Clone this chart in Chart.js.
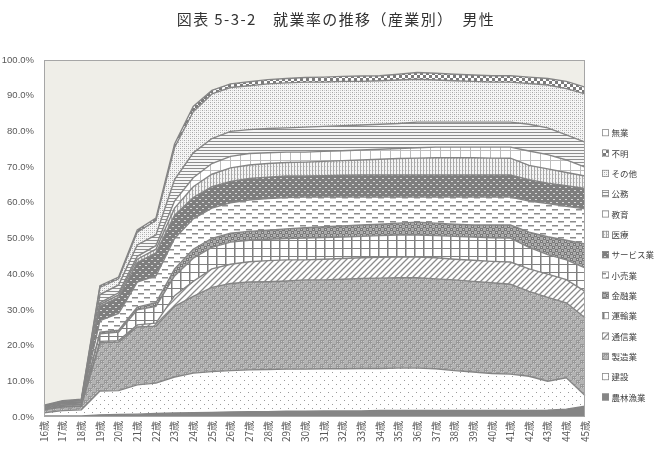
<!DOCTYPE html>
<html><head><meta charset="utf-8">
<script src="https://cdn.jsdelivr.net/npm/chart.js@4.4.1/dist/chart.umd.min.js"></script>
<style>html,body{margin:0;padding:0;background:#fff;}canvas{display:block;}</style>
</head><body>
<canvas id="c" width="672" height="454"></canvas>
<script>
const ages = ['16歳','17歳','18歳','19歳','20歳','21歳','22歳','23歳','24歳','25歳','26歳','27歳','28歳','29歳','30歳','31歳','32歳','33歳','34歳','35歳','36歳','37歳','38歳','39歳','40歳','41歳','42歳','43歳','44歳','45歳'];
const seriesNames = ['農林漁業','建設','製造業','通信業','運輸業','金融業','小売業','サービス業','医療','教育','公務','その他','不明','無業'];
const agri = [0.3,0.3,0.3,0.6,0.7,0.8,1.0,1.1,1.2,1.3,1.4,1.5,1.5,1.6,1.6,1.7,1.7,1.7,1.8,1.8,1.8,1.8,1.8,1.8,1.8,1.8,1.8,1.9,2.2,3.0];
const construction = [0.9,1.5,1.7,6.7,6.7,8.2,8.5,10.1,11.1,11.4,11.6,11.7,11.8,11.8,11.8,11.8,11.8,11.9,11.8,11.9,11.9,11.7,11.2,10.8,10.4,10.2,9.6,8.1,8.8,3.0];
const manufacturing = [0.8,1.0,1.0,13.5,13.6,16.2,15.9,19.8,21.5,23.6,24.4,24.6,24.6,24.7,25.0,24.9,25.1,25.2,25.3,25.3,25.3,25.2,25.4,25.4,25.4,25.2,23.8,23.5,21.0,21.8];
const telecom = [0.2,0.2,0.2,0.4,0.4,0.6,0.9,3.0,4.2,5.2,5.4,5.7,5.9,5.9,5.6,5.8,5.8,5.8,5.8,5.8,5.8,5.9,5.8,5.9,6.0,6.2,6.3,6.5,6.5,7.4];
const transport = [0.2,0.3,0.3,2.1,2.4,4.2,4.7,5.5,6.5,6.0,6.2,6.0,6.0,6.0,6.1,6.1,6.0,6.0,6.1,6.2,6.2,6.2,6.4,6.5,6.6,6.7,6.0,5.5,5.5,6.6];
const finance = [0.1,0.1,0.1,0.5,0.5,0.8,1.0,2.0,2.5,2.5,2.5,2.5,2.5,2.7,2.9,3.0,3.1,3.2,3.2,3.3,3.6,3.5,3.4,3.4,3.6,3.7,4.3,5.0,5.5,6.7];
const retail = [0.2,0.3,0.3,3.2,4.7,7.0,7.5,8.5,8.5,8.5,8.5,8.8,8.9,8.8,8.6,8.3,8.1,7.8,7.6,7.3,7.0,7.3,7.6,7.8,7.8,7.8,8.7,9.3,9.5,9.8];
const service = [0.15,0.2,0.2,4.0,4.5,5.5,6.5,6.5,6.0,6.0,6.0,6.0,6.0,6.0,5.9,6.0,6.1,6.2,6.2,6.2,6.2,6.2,6.2,6.2,6.2,6.2,6.0,5.7,5.8,5.7];
const medical = [0.05,0.1,0.1,0.5,0.7,0.9,1.0,2.0,3.0,3.5,3.8,3.8,3.8,3.8,3.9,4.0,4.1,4.2,4.4,4.6,4.7,4.8,4.8,4.8,4.7,4.7,4.0,4.0,3.7,3.5];
const education = [0.05,0.1,0.1,0.5,0.6,0.8,1.0,2.0,2.5,3.0,3.2,3.2,3.0,2.9,2.8,2.8,2.8,2.8,2.8,2.8,2.9,3.0,3.0,3.0,3.1,3.1,4.0,4.0,3.5,2.5];
const publicService = [0.05,0.1,0.2,2.3,2.2,3.2,3.0,6.0,7.0,7.0,7.0,6.7,6.8,6.8,7.0,7.0,7.0,7.0,7.0,7.0,7.2,7.0,7.0,7.0,7.0,7.0,7.5,7.5,7.0,7.0];
const other = [0.1,0.2,0.2,2.0,1.7,3.6,4.0,9.0,11.5,12.5,12.3,12.3,12.5,12.6,12.6,12.4,12.4,12.2,12.2,12.2,12.0,11.8,11.6,11.4,11.2,11.2,11.4,12.0,13.0,13.5];
const unknown = [0.2,0.2,0.3,0.5,0.5,0.6,0.7,1.0,1.5,1.0,1.0,1.1,1.2,1.2,1.3,1.4,1.4,1.5,1.4,1.6,1.9,1.9,1.8,1.8,1.8,1.8,1.8,1.8,2.0,1.9];
const jobless = [96.7,95.4,95.0,63.2,60.8,47.6,44.3,23.5,13.0,8.5,6.7,6.1,5.5,5.2,4.9,4.8,4.6,4.5,4.4,4.0,3.5,3.7,4.0,4.2,4.4,4.4,4.8,5.2,6.0,7.6];
const yTicks = [0,10,20,30,40,50,60,70,80,90,100];
const titleText = '図表 5-3-2　就業率の推移（産業別）　男性';

const seriesValues = [agri,construction,manufacturing,telecom,transport,finance,retail,service,medical,education,publicService,other,unknown,jobless];

function pat(w,h,draw){const c=document.createElement('canvas');c.width=w;c.height=h;const g=c.getContext('2d');draw(g,w,h);return g.createPattern(c,'repeat');}
const fills = [
  '#858585',
  pat(8,8,(g)=>{g.fillStyle='#fff';g.fillRect(0,0,8,8);g.fillStyle='#9a9a9a';g.fillRect(0,0,1,1);g.fillRect(4,4,1,1);}),
  pat(8,8,(g)=>{g.fillStyle='#cacaca';g.fillRect(0,0,8,8);g.fillStyle='#989898';for(let i=0;i<8;i+=2){g.fillRect(i,0,1,8);g.fillRect(0,i,8,1);}g.fillStyle='#b4b4b4';g.fillRect(4,4,4,4);g.fillRect(0,0,4,4);}),
  pat(6,6,(g)=>{g.fillStyle='#fff';g.fillRect(0,0,6,6);g.strokeStyle='#8c8c8c';g.lineWidth=1.3;g.beginPath();g.moveTo(-1,7);g.lineTo(7,-1);g.moveTo(-1,1);g.lineTo(1,-1);g.moveTo(5,7);g.lineTo(7,5);g.stroke();}),
  pat(9,8,(g)=>{g.fillStyle='#fff';g.fillRect(0,0,9,8);g.fillStyle='#7f7f7f';g.fillRect(0,0,9,1);g.fillRect(0,0,1.5,8);}),
  pat(6,6,(g)=>{g.fillStyle='#aaaaaa';g.fillRect(0,0,6,6);g.fillStyle='#7a7a7a';g.fillRect(0,0,3,3);g.fillRect(3,3,3,3);g.fillStyle='#cfcfcf';g.fillRect(1,1,1,1);g.fillRect(4,4,1,1);}),
  pat(12,8,(g)=>{g.fillStyle='#fff';g.fillRect(0,0,12,8);g.fillStyle='#8c8c8c';g.fillRect(0,1,6,1.5);g.fillRect(6,5,6,1.5);}),
  pat(6,6,(g)=>{g.fillStyle='#7e7e7e';g.fillRect(0,0,6,6);g.fillStyle='#d8d8d8';g.fillRect(1,1,2,1);g.fillRect(4,4,2,1);}),
  pat(3,4,(g)=>{g.fillStyle='#f4f4f4';g.fillRect(0,0,3,4);g.fillStyle='#a8a8a8';g.fillRect(0,0,1,4);g.fillStyle='#c8c8c8';g.fillRect(1,2,1,1);}),
  pat(10,10,(g)=>{g.fillStyle='#fff';g.fillRect(0,0,10,10);g.fillStyle='#bcbcbc';g.fillRect(0,0,10,1);g.fillRect(0,0,1,10);}),
  pat(2,3,(g)=>{g.fillStyle='#f6f6f6';g.fillRect(0,0,2,3);g.fillStyle='#8e8e8e';g.fillRect(0,0,2,1);}),
  pat(4,4,(g)=>{g.fillStyle='#f6f6f6';g.fillRect(0,0,4,4);g.fillStyle='#a6a6a6';g.fillRect(0,0,1,1);g.fillRect(2,2,1,1);g.fillStyle='#cccccc';g.fillRect(2,0,1,1);g.fillRect(0,2,1,1);}),
  pat(6,6,(g)=>{g.fillStyle='#fff';g.fillRect(0,0,6,6);g.fillStyle='#7a7a7a';g.fillRect(0,0,3,3);g.fillRect(3,3,3,3);}),
  '#efeee8'
];

const datasets = seriesNames.map((name,i)=>({
  label: name,
  data: seriesValues[i],
  backgroundColor: fills[i],
  borderColor: i===13 ? 'rgba(0,0,0,0)' : '#858585',
  borderWidth: i===13 ? 0 : 1.4,
  pointRadius: 0,
  tension: 0,
  fill: i===0 ? 'origin' : '-1'
}));

const frame = {
  id:'frame',
  beforeDatasetsDraw(chart){const a=chart.chartArea,c=chart.ctx;c.save();c.fillStyle='#efeee8';c.fillRect(a.left,a.top,a.right-a.left,a.bottom-a.top);c.restore();},
  afterDatasetsDraw(chart){const a=chart.chartArea,c=chart.ctx;c.save();c.strokeStyle='#a6a6a6';c.lineWidth=1;c.strokeRect(a.left+0.5,a.top+0.5,a.right-a.left-1,a.bottom-a.top-1);c.restore();}
};
const titleDraw = {
  id:'titleDraw',
  afterDraw(chart){
    const c=chart.ctx; c.save();
    c.font='15px "Noto Sans CJK JP"'; c.fillStyle='#333333'; c.textAlign='center'; c.textBaseline='middle';
    if('letterSpacing' in c) c.letterSpacing='1.4px';
    c.fillText(titleText,336,19);
    c.restore();
  }
};
const legendDraw = {
  id:'legendDraw',
  afterDraw(chart){
    const c=chart.ctx; const ds=chart.data.datasets; c.save();
    c.font='8.5px "Noto Sans CJK JP"'; c.textBaseline='middle'; c.fillStyle='#404040';
    for(let k=0;k<ds.length;k++){
      const d=ds[ds.length-1-k]; const y=132.7+k*20.33;
      c.fillStyle=(k===0)?'#ffffff':d.backgroundColor; c.fillRect(602,y-3.5,7,7);
      c.strokeStyle='#8a8a8a'; c.lineWidth=0.8; c.strokeRect(602.4,y-3.1,6.2,6.2);
      c.fillStyle='#404040'; c.fillText(d.label,611.5,y+0.5);
    }
    c.restore();
  }
};

new Chart(document.getElementById('c'),{
  type:'line',
  data:{labels:ages,datasets},
  options:{
    responsive:false, animation:false, devicePixelRatio:1,
    layout:{padding:{left:0,right:87,top:60,bottom:0}},
    plugins:{
      legend:{display:false}, tooltip:{enabled:false}, title:{display:false},
      filler:{propagate:false}
    },
    scales:{
      x:{offset:false,grid:{display:false,drawTicks:false},border:{display:false},
         ticks:{autoSkip:false,minRotation:90,maxRotation:90,color:'#595959',font:{family:'"Noto Sans CJK JP"',size:10},padding:4},
         afterFit(s){s.height=37;}},
      y:{stacked:true,min:0,max:100,grid:{display:false,drawTicks:false},border:{display:false},
         afterBuildTicks(s){s.ticks=yTicks.map(v=>({value:v}));},
         ticks:{color:'#595959',font:{family:'"Liberation Sans", Arial, sans-serif',size:9.5},padding:10,callback:v=>v.toFixed(1)+'%'},
         afterFit(s){s.width=44;}}
    }
  },
  plugins:[frame,titleDraw,legendDraw]
});
</script>
</body></html>
